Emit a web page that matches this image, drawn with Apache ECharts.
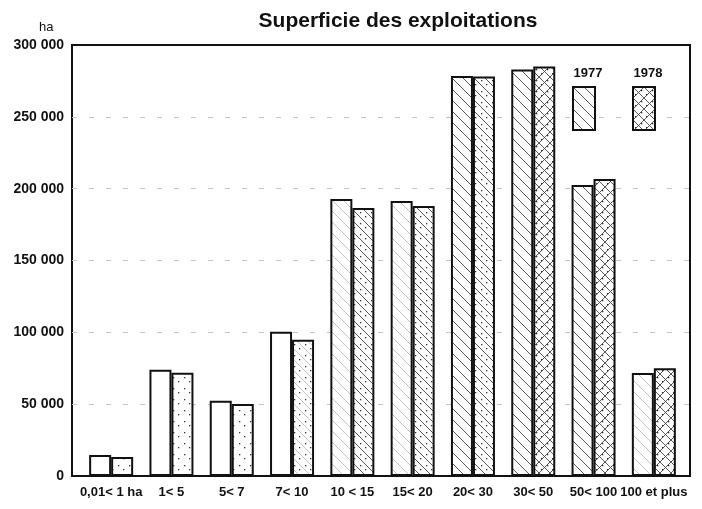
<!DOCTYPE html>
<html>
<head>
<meta charset="utf-8">
<script src="https://cdn.jsdelivr.net/npm/echarts@6/dist/echarts.min.js"></script>
<style>
  html, body { margin: 0; padding: 0; background: #fff; }
  #chart { width: 702px; height: 509px; }
</style>
</head>
<body>
<div id="chart"></div>
<script>
// categories and values (ha)
var categories = ['0,01< 1 ha', '1< 5', '5< 7', '7< 10', '10 < 15', '15< 20', '20< 30', '30< 50', '50< 100', '100 et plus'];
var years = ['1977', '1978'];
var values1977 = [14600, 73900, 52300, 100400, 192800, 191400, 278400, 283000, 202500, 71700];
var values1978 = [13300, 71800, 50200, 94800, 186500, 188000, 278000, 285000, 206700, 75000];
var yTickLabels = ['0', '50 000', '100 000', '150 000', '200 000', '250 000', '300 000'];

// fill kind of each bar (scanned hatching)
var fill1977 = ['plain', 'plain', 'plain', 'plain', 'faint', 'faint', 'hatch', 'hatch', 'hatch', 'faint'];
var fill1978 = ['dots', 'dots', 'dots', 'dotFaint', 'dotHatch', 'dotHatch', 'dotHatch', 'cross', 'cross', 'cross'];

var labelFont = "'Liberation Sans', Arial, sans-serif";

// build a repeating canvas pattern
function makePattern(kind) {
  var s = 11;
  var c = document.createElement('canvas');
  c.width = s; c.height = s;
  var g = c.getContext('2d');
  g.fillStyle = '#fff';
  g.fillRect(0, 0, s, s);
  var back = kind == 'hatch' || kind == 'dotHatch' || kind == 'cross' || kind == 'faint' || kind == 'dotFaint';
  if (back) {
    g.strokeStyle = (kind == 'faint' || kind == 'dotFaint') ? '#bbb' : '#444';
    g.lineWidth = 0.9;
    g.beginPath();
    g.moveTo(-1, -1); g.lineTo(s + 1, s + 1);
    g.stroke();
  }
  if (kind == 'cross') {
    g.beginPath();
    g.moveTo(-1, s + 1); g.lineTo(s + 1, -1);
    g.stroke();
  }
  if (kind == 'dots' || kind == 'dotHatch' || kind == 'dotFaint' || kind == 'cross') {
    g.fillStyle = '#333';
    g.fillRect(2, 7, 1.3, 1.3);
    g.fillRect(8, 3, 1.3, 1.3);
  }
  return { image: c, repeat: 'repeat' };
}

function barData(values, fills) {
  return values.map(function (v, i) {
    return { value: v, itemStyle: { color: makePattern(fills[i]) } };
  });
}

var myChart = echarts.init(document.getElementById('chart'));

var option = {
  animation: false,
  backgroundColor: '#fff',
  title: [
    {
      text: 'Superficie des exploitations',
      left: 393, top: 6, textAlign: 'center',
      textStyle: { fontFamily: labelFont, fontSize: 21, fontWeight: 'bold', color: '#111' }
    },
    {
      text: 'ha', left: 34, top: 16,
      textStyle: { fontFamily: labelFont, fontSize: 13, fontWeight: 'normal', color: '#111' }
    },
    {
      text: '1977', left: 583, top: 62, textAlign: 'center',
      textStyle: { fontFamily: labelFont, fontSize: 13, fontWeight: 'bold', color: '#111' }
    },
    {
      text: '1978', left: 643, top: 62, textAlign: 'center',
      textStyle: { fontFamily: labelFont, fontSize: 13, fontWeight: 'bold', color: '#111' }
    }
  ],
  legend: {
    data: years,
    left: 572, top: 86,
    padding: 0,
    itemWidth: 22, itemHeight: 43,
    itemGap: 36,
    icon: 'rect',
    formatter: function () { return ''; }
  },
  grid: [
    // frame
    { left: 72, right: 12, top: 45, bottom: 33, show: true, borderColor: '#111', borderWidth: 2, backgroundColor: 'transparent' },
    // bars
    { left: 81, right: 18, top: 45, bottom: 33 }
  ],
  xAxis: [
    { gridIndex: 0, type: 'value', show: false, min: 0, max: 1 },
    {
      gridIndex: 1, type: 'category', data: categories,
      axisLine: { show: false }, axisTick: { show: false },
      axisLabel: { color: '#111', fontFamily: labelFont, fontSize: 13, fontWeight: 'bold', margin: 10, interval: 0 }
    }
  ],
  yAxis: [
    {
      gridIndex: 0, type: 'value', min: 0, max: 300000, interval: 50000,
      axisLine: { show: false }, axisTick: { show: false },
      axisLabel: {
        color: '#111', fontFamily: labelFont, fontSize: 14, fontWeight: 'bold', margin: 8,
        formatter: function (v) { return yTickLabels[Math.round(v / 50000)]; }
      },
      splitLine: { show: true, showMinLine: false, showMaxLine: false, lineStyle: { color: '#c4c4c4', width: 1, type: [5, 12] } }
    },
    { gridIndex: 1, type: 'value', min: 0, max: 300000, interval: 50000, show: false, splitLine: { show: false } }
  ],
  series: [
    {
      name: '1977', type: 'bar', xAxisIndex: 1, yAxisIndex: 1,
      barWidth: 22, barGap: '0%',
      itemStyle: { color: makePattern('hatch'), borderColor: '#111', borderWidth: 2 },
      data: barData(values1977, fill1977)
    },
    {
      name: '1978', type: 'bar', xAxisIndex: 1, yAxisIndex: 1,
      barWidth: 22, barGap: '0%',
      itemStyle: { color: makePattern('cross'), borderColor: '#111', borderWidth: 2 },
      data: barData(values1978, fill1978)
    }
  ]
};

myChart.setOption(option);
</script>
</body>
</html>
